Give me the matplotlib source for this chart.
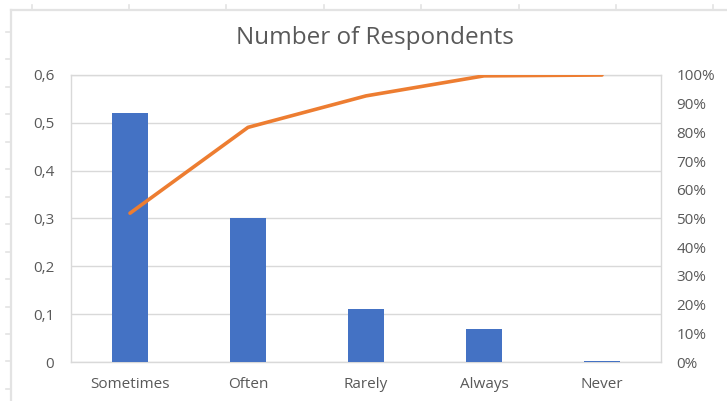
import matplotlib
matplotlib.use("Agg")
import matplotlib.pyplot as plt
from matplotlib.lines import Line2D
from matplotlib.ticker import FuncFormatter, FixedLocator
import numpy as np

# Survey answers and share of respondents for each answer
categories = ["Sometimes", "Often", "Rarely", "Always", "Never"]
shares = [0.52, 0.30, 0.11, 0.07, 0.003]
left_ticks = [0, 0.1, 0.2, 0.3, 0.4, 0.5, 0.6]
right_ticks = [0, 10, 20, 30, 40, 50, 60, 70, 80, 90, 100]

BAR_BLUE = "#4472C4"
LINE_ORANGE = "#ED7D31"
GRID = "#D9D9D9"
TEXT = "#595959"
FONT = ["Open Sans", "DejaVu Sans"]

plt.rcParams["font.family"] = FONT

W, H = 727, 401
fig = plt.figure(figsize=(W / 100, H / 100), dpi=100)
fig.patch.set_facecolor("white")

# Sheet frame lines around the embedded chart
frame_col = "#E3E3E3"
fig.add_artist(Line2D([11 / W, 1], [1 - 10 / H, 1 - 10 / H], color=frame_col, lw=1.6))
fig.add_artist(Line2D([11 / W, 11 / W], [0, 1 - 10 / H], color=frame_col, lw=1.6))
for tx in np.arange(31.5, W, 97.4):
    fig.add_artist(Line2D([tx / W, tx / W], [1 - 10 / H, 1 - 5 / H], color=frame_col, lw=1.2))
for ty in np.arange(32, H, 27.45):
    fig.add_artist(Line2D([6 / W, 11 / W], [1 - ty / H, 1 - ty / H], color=frame_col, lw=1.2))

ax = fig.add_axes([71 / W, 1 - 362 / H, 590 / W, 287 / H])
x = np.arange(len(categories))
ax.bar(x, shares, width=0.31, color=BAR_BLUE, zorder=3)
ax.set_xlim(-0.5, len(categories) - 0.5)
ax.set_ylim(0, 0.6)
ax.yaxis.set_major_locator(FixedLocator(left_ticks))
ax.yaxis.set_major_formatter(FuncFormatter(lambda v, p: "0" if v == 0 else f"{v:.1f}".replace(".", ",")))
ax.set_xticks(x)
ax.set_xticklabels(categories)
ax.grid(axis="y", color=GRID, lw=1.0, zorder=0)
for s in ax.spines.values():
    s.set_color(GRID)
    s.set_linewidth(1.0)
ax.tick_params(axis="both", length=0, colors=TEXT, labelsize=11)
ax.tick_params(axis="y", pad=12)
ax.tick_params(axis="x", pad=11)

# Cumulative percentage on the secondary axis
cum = np.cumsum(shares) / np.sum(shares) * 100
ax2 = ax.twinx()
ax2.plot(x, cum, color=LINE_ORANGE, lw=2.6, solid_capstyle="round", zorder=4)
ax2.set_ylim(0, 100)
ax2.yaxis.set_major_locator(FixedLocator(right_ticks))
ax2.yaxis.set_major_formatter(FuncFormatter(lambda v, p: f"{v:.0f}%"))
ax2.tick_params(axis="y", length=0, colors=TEXT, labelsize=11, pad=11)
for s in ax2.spines.values():
    s.set_visible(False)

fig.text(375 / W, 1 - 38 / H, "Number of Respondents", ha="center", va="center",
         fontsize=17.5, color=TEXT)

fig.savefig("out.png", dpi=100, facecolor="white")
